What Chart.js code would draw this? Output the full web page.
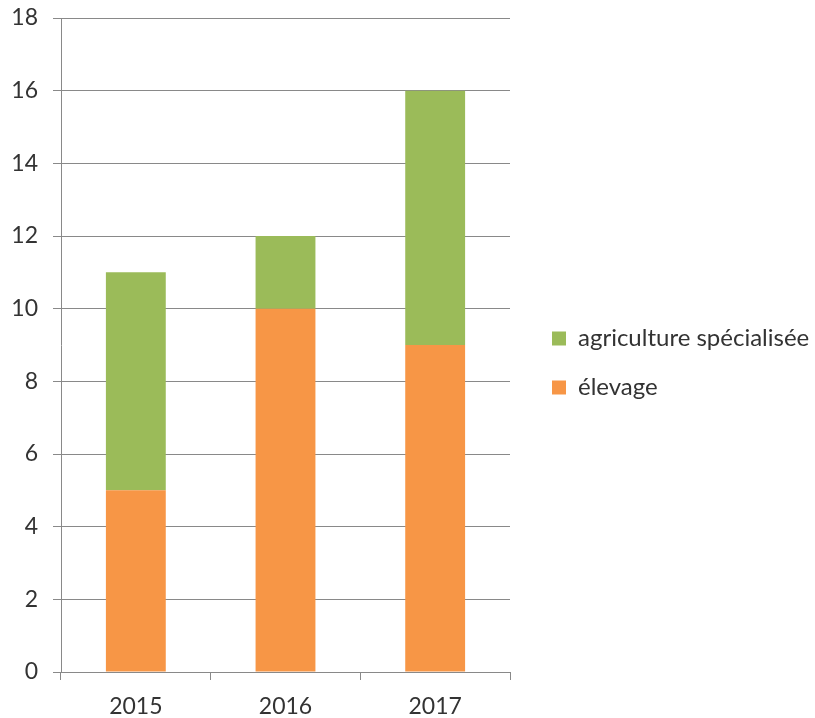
<!DOCTYPE html>
<html>
<head>
<meta charset="utf-8">
<script src="https://cdn.jsdelivr.net/npm/chart.js@4/dist/chart.umd.min.js"></script>
<style>
  html, body { margin: 0; padding: 0; background: #ffffff; }
  #wrap { width: 815px; height: 718px; }
</style>
</head>
<body>
<div id="wrap"><canvas id="myChart" width="815" height="718"></canvas></div>
<script>
// chart data
const years = ["2015", "2016", "2017"];
const elevage = [5, 10, 9];
const agriculture = [6, 2, 7];
const seriesNames = ["élevage", "agriculture spécialisée"];

const gridColor = "#898989";
const textColor = "#333333";

// keep the legend at a fixed width so the plot ends where the original does
const legendWidth = {
  id: "legendWidth",
  beforeLayout(chart) {
    const lg = chart.legend;
    if (lg && !lg._patched) {
      const fit = lg.fit;
      lg.fit = function () {
        fit.call(this);
        this.width = 305;
      };
      lg._patched = true;
    }
  },
  afterLayout(chart) {
    chart.legend.left = 527;
    chart.legend.top = 8;
  }
};

new Chart("myChart", {
  type: "bar",
  data: {
    labels: years,
    datasets: [{
      label: seriesNames[0],
      data: elevage,
      backgroundColor: "#F79646"
    }, {
      label: seriesNames[1],
      data: agriculture,
      backgroundColor: "#9BBB59"
    }]
  },
  options: {
    responsive: false,
    animation: false,
    devicePixelRatio: 1,
    layout: { padding: { top: 18, left: 0, right: 0, bottom: 0 } },
    datasets: { bar: { categoryPercentage: 1, barPercentage: 0.4 } },
    plugins: {
      legend: {
        position: "right",
        reverse: true,
        labels: {
          boxWidth: 14,
          boxHeight: 14,
          padding: 25,
          color: textColor,
          font: { family: "Lato", size: 24 }
        }
      },
      tooltip: { enabled: false }
    },
    scales: {
      x: {
        stacked: true,
        grid: { drawOnChartArea: false, tickLength: 8, color: gridColor, offset: true },
        border: { color: gridColor },
        ticks: { color: textColor, padding: 13, font: { family: "Lato", size: 23 } },
        afterFit(s) { s.height = 46; s.paddingLeft = 0; s.paddingRight = 0; }
      },
      y: {
        stacked: true,
        min: 0,
        max: 18,
        ticks: { stepSize: 2, color: textColor, padding: 15, font: { family: "Lato", size: 23 } },
        grid: { color: gridColor, tickLength: 8 },
        border: { color: gridColor },
        afterFit(s) { s.width = 61; s.paddingTop = 0; s.paddingBottom = 0; }
      }
    }
  },
  plugins: [legendWidth]
});
</script>
</body>
</html>
